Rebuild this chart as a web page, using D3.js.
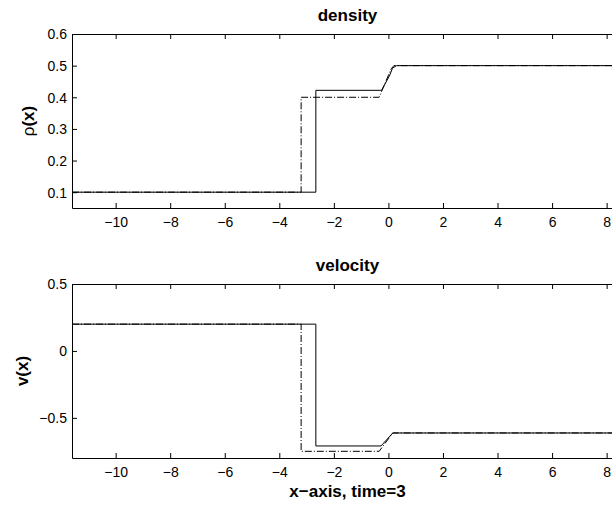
<!DOCTYPE html>
<html>
<head>
<meta charset="utf-8">
<script src="https://cdn.jsdelivr.net/npm/d3@7"></script>
<style>
  body { margin: 0; background: #fff; overflow: hidden; }
  text { font-family: "Liberation Sans", Arial, Helvetica, sans-serif; fill: #000; }
  .tick text { font-size: 14px; }
</style>
</head>
<body>
<script>
// x range of both panels
var xDomain = [-11.6, 8.6];
var xTicks = [-10, -8, -6, -4, -2, 0, 2, 4, 6, 8];

// density panel
var densDomain = [0.05, 0.6];
var densTicks = [0.1, 0.2, 0.3, 0.4, 0.5, 0.6];
var densSolidX = [-11.6, -2.66, -2.66, -0.25, 0.05, 0.15, 0.3, 8.6];
var densSolidY = [0.1, 0.1, 0.422, 0.422, 0.47, 0.492, 0.5, 0.5];
var densDashX = [-11.6, -3.2, -3.2, -0.34, 0.1, 0.2, 8.6];
var densDashY = [0.1, 0.1, 0.4, 0.4, 0.49, 0.5, 0.5];

// velocity panel
var velDomain = [-0.8, 0.5];
var velTicks = [-0.5, 0, 0.5];
var velSolidX = [-11.6, -2.66, -2.66, -0.27, 0.16, 8.6];
var velSolidY = [0.2, 0.2, -0.71, -0.71, -0.613, -0.613];
var velDashX = [-11.6, -3.2, -3.2, -0.34, 0.16, 8.6];
var velDashY = [0.2, 0.2, -0.75, -0.75, -0.613, -0.613];

var W = 612, H = 505;
var left = 72, right = 623;

var svg = d3.select("body").append("svg")
    .attr("width", W)
    .attr("height", H);

var xScale = d3.scaleLinear().domain(xDomain).range([left, right]);

function fmt(d) {
    return d3.format("")(d).replace("-", "\u2212");
}

function panel(top, bottom, yDomain, yTicks, title, series, ylabel) {
    var yScale = d3.scaleLinear().domain(yDomain).range([bottom, top]);
    var g = svg.append("g");

    var line = d3.line()
        .x(function(d) { return xScale(d[0]); })
        .y(function(d) { return yScale(d[1]); });

    series.forEach(function(s) {
        var pts = s.x.map(function(v, i) { return [v, s.y[i]]; });
        g.append("path")
            .datum(pts)
            .attr("fill", "none")
            .attr("stroke", "#000")
            .attr("stroke-width", 1)
            .attr("stroke-dasharray", s.dash)
            .attr("d", line);
    });

    // bottom axis, ticks inward
    var xb = g.append("g")
        .attr("class", "axis")
        .attr("transform", "translate(0," + bottom + ")")
        .call(d3.axisBottom(xScale).tickValues(xTicks).tickSizeInner(-5).tickSizeOuter(0).tickPadding(9).tickFormat(fmt));
    // top axis mirror ticks
    var xt = g.append("g")
        .attr("transform", "translate(0," + top + ")")
        .call(d3.axisTop(xScale).tickValues(xTicks).tickSizeInner(-5).tickSizeOuter(0).tickFormat(""));
    var yl = g.append("g")
        .attr("transform", "translate(" + left + ",0)")
        .call(d3.axisLeft(yScale).tickValues(yTicks).tickSizeInner(-5).tickSizeOuter(0).tickPadding(5).tickFormat(fmt));
    var yr = g.append("g")
        .attr("transform", "translate(" + right + ",0)")
        .call(d3.axisRight(yScale).tickValues(yTicks).tickSizeInner(-5).tickSizeOuter(0).tickFormat(""));

    [xb, xt, yl, yr].forEach(function(a) {
        a.selectAll("path, line").attr("stroke", "#000").attr("stroke-width", 1);
        a.selectAll("text").style("font-size", "14px");
    });
    yl.selectAll("text").attr("dy", "0.35em");

    g.append("text")
        .attr("x", (left + right) / 2)
        .attr("y", top - 13)
        .attr("text-anchor", "middle")
        .style("font-size", "17px")
        .style("font-weight", "bold")
        .text(title);

    var lab = g.append("text")
        .attr("transform", "translate(" + ylabel.x + "," + ((top + bottom) / 2) + ") rotate(-90)")
        .attr("text-anchor", "middle")
        .style("font-size", "17px");
    ylabel.parts.forEach(function(p) {
        lab.append("tspan").style("font-weight", p.bold ? "bold" : "normal").text(p.t);
    });

    return yScale;
}

panel(34, 208, densDomain, densTicks, "density", [
    {x: densSolidX, y: densSolidY, dash: null},
    {x: densDashX, y: densDashY, dash: "7,2,1,2"}
], {x: 34, parts: [{t: "\u03c1", bold: false}, {t: "(x)", bold: true}]});

panel(284, 458, velDomain, velTicks, "velocity", [
    {x: velSolidX, y: velSolidY, dash: null},
    {x: velDashX, y: velDashY, dash: "7,2,1,2"}
], {x: 28, parts: [{t: "v(x)", bold: true}]});

svg.append("text")
    .attr("x", (left + right) / 2)
    .attr("y", 497)
    .attr("text-anchor", "middle")
    .style("font-size", "17px")
    .style("font-weight", "bold")
    .text("x\u2212axis, time=3");
</script>
</body>
</html>
